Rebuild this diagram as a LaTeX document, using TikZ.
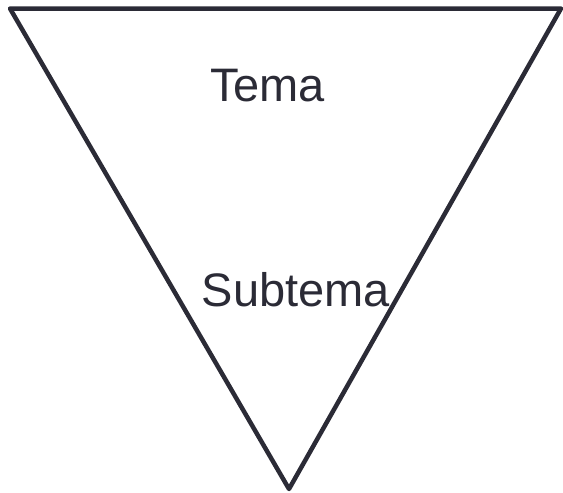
\documentclass[tikz,border=0pt]{standalone}
\usepackage{fontspec}
\setmainfont{Liberation Sans}
\definecolor{ink}{HTML}{2B2B36}
\begin{document}
\begin{tikzpicture}[x=1pt,y=-1pt,
  edge/.style={draw=ink,line width=4.5pt,line join=round},
  lbl/.style={text=ink,font=\fontsize{47}{56}\selectfont,anchor=base,inner sep=0pt}]
\useasboundingbox (0,0) rectangle (563,493);
\coordinate (tl) at (10,8.5);
\coordinate (tr) at (561,8.5);
\coordinate (bt) at (289,489);
\draw[edge] (tl) -- (tr) -- (bt) -- cycle;
\node[lbl] (tema) at (267.5,101) {Tema};
\node[lbl] (sub) at (296,306) {Subtema};
\end{tikzpicture}
\end{document}
